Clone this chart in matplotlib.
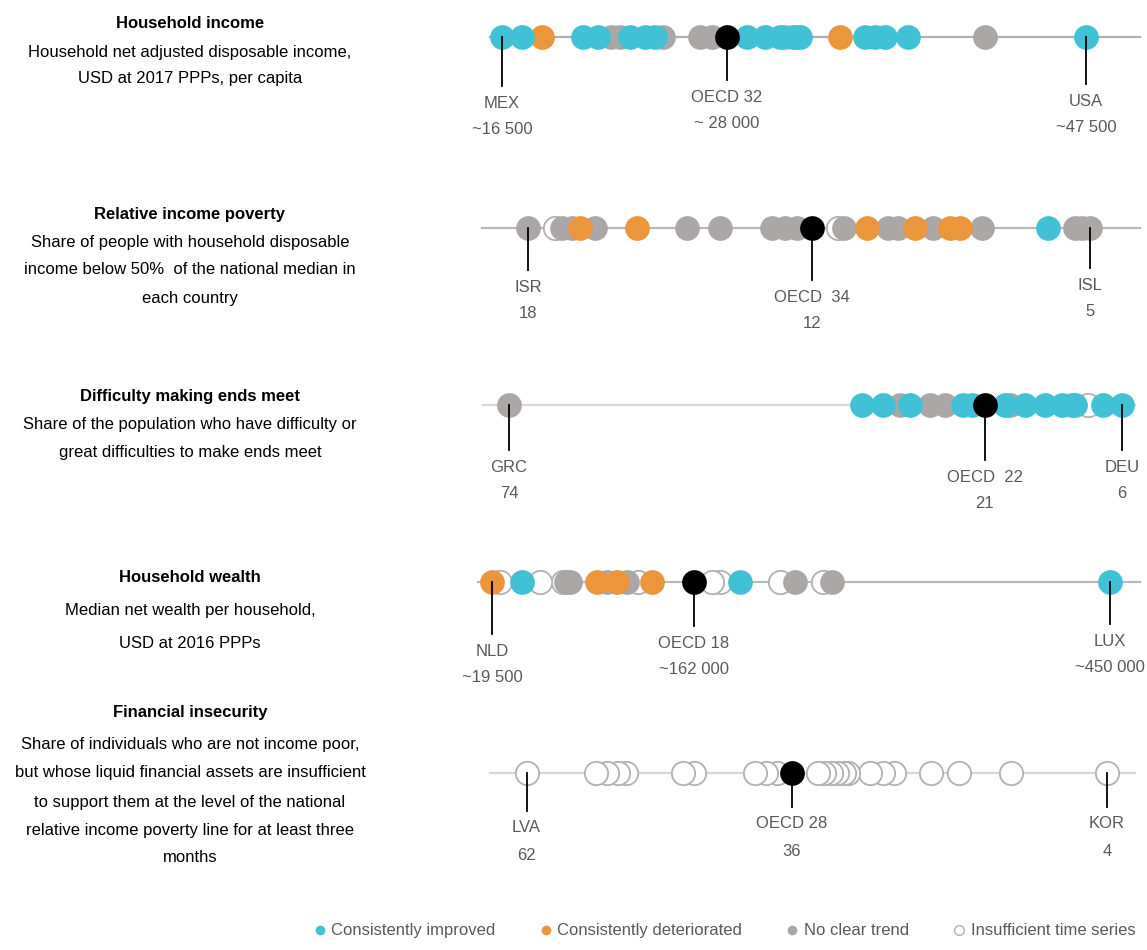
import matplotlib.pyplot as plt
from matplotlib.lines import Line2D

plt.rcParams['font.family'] = ['Liberation Sans', 'DejaVu Sans']

W, H = 1147, 950
CYAN = '#41c1d5'
ORANGE = '#ec963c'
GREY = '#aaa7a6'
OPEN_EDGE = '#b3b1b0'
LABEL = '#595959'

# Household income (USD, 2017 PPPs)
income_improved = [16500, 17560, 20800, 21600, 23290, 24090, 24620, 29500, 30460,
                   31260, 31950, 32320, 35770, 36300, 36830, 38050, 47500]
income_deteriorated = [18620, 34440]
income_no_trend = [22290, 22760, 25050, 27010, 27650, 31520, 32100, 42150]
income_insufficient = []
income_oecd = 28440

# Relative income poverty (%)
poverty_improved = [5.97]
poverty_deteriorated = [16.80, 15.48, 10.16, 9.05, 8.24, 8.01]
poverty_no_trend = [18.0, 17.21, 16.98, 16.45, 14.32, 13.56, 12.36, 12.06, 11.78,
                    10.69, 9.67, 9.44, 8.63, 7.50, 5.35, 5.19, 5.0]
poverty_insufficient = [17.38, 10.83]
poverty_oecd = 11.43

# Difficulty making ends meet (%)
ends_improved = [34.85, 32.52, 29.52, 23.65, 22.65, 19.0, 16.78, 14.56, 12.67,
                 11.23, 8.13, 6.0]
ends_deteriorated = []
ends_no_trend = [74, 30.63, 27.31, 25.64, 18.44]
ends_insufficient = [11.56, 9.79]
ends_oecd = 21.21

# Household wealth (USD, 2016 PPPs)
wealth_improved = [40400, 192250, 450000]
wealth_deteriorated = [19500, 92640, 106580, 130960]
wealth_no_trend = [71050, 73830, 99610, 113540, 230560, 256340]
wealth_insufficient = [25070, 52940, 68960, 121200, 172750, 178320, 220110, 250070]
wealth_oecd = 160210

# Financial insecurity (%)
insecurity_improved = []
insecurity_deteriorated = []
insecurity_no_trend = []
insecurity_insufficient = [62, 55.06, 53.96, 52.86, 52.01, 46.37, 45.27, 39.17, 38.07,
                           37.02, 32.87, 32.27, 31.57, 30.97, 30.27, 29.87, 27.67,
                           26.37, 25.27, 21.58, 18.78, 13.6, 4.0]
insecurity_oecd = 35.47

titles = ['Household income', 'Relative income poverty', 'Difficulty making ends meet',
          'Household wealth', 'Financial insecurity']
descriptions = [
    ['Household net adjusted disposable income,', 'USD at 2017 PPPs, per capita'],
    ['Share of people with household disposable',
     'income below 50%  of the national median in', 'each country'],
    ['Share of the population who have difficulty or',
     'great difficulties to make ends meet'],
    ['Median net wealth per household,', 'USD at 2016 PPPs'],
    ['Share of individuals who are not income poor,',
     'but whose liquid financial assets are insufficient',
     'to support them at the level of the national',
     'relative income poverty line for at least three', 'months'],
]
left_labels = [('MEX', '~16 500', 16500), ('ISR', '18', 18.0), ('GRC', '74', 74),
               ('NLD', '~19 500', 19500), ('LVA', '62', 62)]
oecd_labels = [('OECD 32', '~ 28 000'), ('OECD  34', '12'), ('OECD  22', '21'),
               ('OECD 18', '~162 000'), ('OECD 28', '36')]
right_labels = [('USA', '~47 500', 47500), ('ISL', '5', 5.0), ('DEU', '6', 6.0),
                ('LUX', '~450 000', 450000), ('KOR', '4', 4.0)]

rows = [
    (income_improved, income_deteriorated, income_no_trend, income_insufficient, income_oecd),
    (poverty_improved, poverty_deteriorated, poverty_no_trend, poverty_insufficient, poverty_oecd),
    (ends_improved, ends_deteriorated, ends_no_trend, ends_insufficient, ends_oecd),
    (wealth_improved, wealth_deteriorated, wealth_no_trend, wealth_insufficient, wealth_oecd),
    (insecurity_improved, insecurity_deteriorated, insecurity_no_trend,
     insecurity_insufficient, insecurity_oecd),
]

# layout in pixels
strip_y = [37, 228, 405, 582, 773]
anchor_px = [(502, 1086), (528, 1090), (509, 1122), (492, 1110), (526.5, 1107)]
line_px = [(490, 1140), (482, 1140), (483, 1135), (478, 1140), (490, 1135)]
line_col = ['#b0b0b0', '#b8b8b8', '#d9d9d9', '#b8b8b8', '#d6d6d6']
label_off = [(66, 60, 64), (59, 69, 57), (62, 72, 62), (69, 61, 59), (55, 51, 51)]
title_y = [23, 214, 397, 577, 713]
body_y = [[53, 78], [242, 270, 299], [425, 452], [610, 644], [745, 773, 802, 830, 858]]

fig = plt.figure(figsize=(W / 100, H / 100), dpi=100)

for i, (imp, det, notr, ins, oecd) in enumerate(rows):
    x0, x1 = anchor_px[i]
    ax = fig.add_axes([x0 / W, 1 - (strip_y[i] + 110) / H, (x1 - x0) / W, 130 / H])
    ax.set_xlim(left_labels[i][2], right_labels[i][2])
    ax.set_ylim(-110, 20)
    ax.axis('off')

    lx0 = (line_px[i][0] - x0) / (x1 - x0)
    lx1 = (line_px[i][1] - x0) / (x1 - x0)
    ax.plot([lx0, lx1], [0, 0], color=line_col[i], lw=1.6,
            transform=ax.get_yaxis_transform(), clip_on=False, zorder=1)

    kw = dict(ls='none', marker='o', clip_on=False)
    ax.plot(ins[::-1], [0] * len(ins), ms=16.8, mfc='white', mec=OPEN_EDGE, mew=1.3,
            zorder=2, **kw)
    ax.plot(notr, [0] * len(notr), ms=17.8, mfc=GREY, mew=0, zorder=3, **kw)
    ax.plot(det, [0] * len(det), ms=17.8, mfc=ORANGE, mew=0, zorder=4, **kw)
    ax.plot(imp, [0] * len(imp), ms=17.8, mfc=CYAN, mew=0, zorder=4, **kw)
    ax.plot([oecd], [0], ms=17.8, mfc='black', mew=0, zorder=5, **kw)

    offs = label_off[i]
    marks = [(left_labels[i][2], left_labels[i][0], left_labels[i][1], offs[0]),
             (oecd, oecd_labels[i][0], oecd_labels[i][1], offs[1]),
             (right_labels[i][2], right_labels[i][0], right_labels[i][1], offs[2])]
    for v, name, val, off in marks:
        ax.plot([v, v], [0, -(off - 17)], color='black', lw=1.3, zorder=6, clip_on=False)
        ax.text(v, -off, name, ha='center', va='center', fontsize=12, color=LABEL)
        ax.text(v, -off - 27, val, ha='center', va='center', fontsize=12, color=LABEL)

    fig.text(190 / W, 1 - title_y[i] / H, titles[i], ha='center', va='center',
             fontsize=12, fontweight='bold')
    for line, y in zip(descriptions[i], body_y[i]):
        fig.text(190 / W, 1 - y / H, line, ha='center', va='center', fontsize=12)

handles = [
    Line2D([], [], ls='none', marker='o', ms=7, mfc=CYAN, mew=0),
    Line2D([], [], ls='none', marker='o', ms=7, mfc=ORANGE, mew=0),
    Line2D([], [], ls='none', marker='o', ms=7, mfc=GREY, mew=0),
    Line2D([], [], ls='none', marker='o', ms=7, mfc='white', mec=OPEN_EDGE, mew=1),
]
leg = fig.legend(handles, ['Consistently improved', 'Consistently deteriorated',
                           'No clear trend', 'Insufficient time series'],
                 loc='lower right', bbox_to_anchor=(1.0, 0.0), ncol=4, frameon=False,
                 fontsize=12, handlelength=0.8, handletextpad=0.3, columnspacing=2.6,
                 borderaxespad=0.3)
for t in leg.get_texts():
    t.set_color(LABEL)

fig.savefig('out.png', dpi=100)
